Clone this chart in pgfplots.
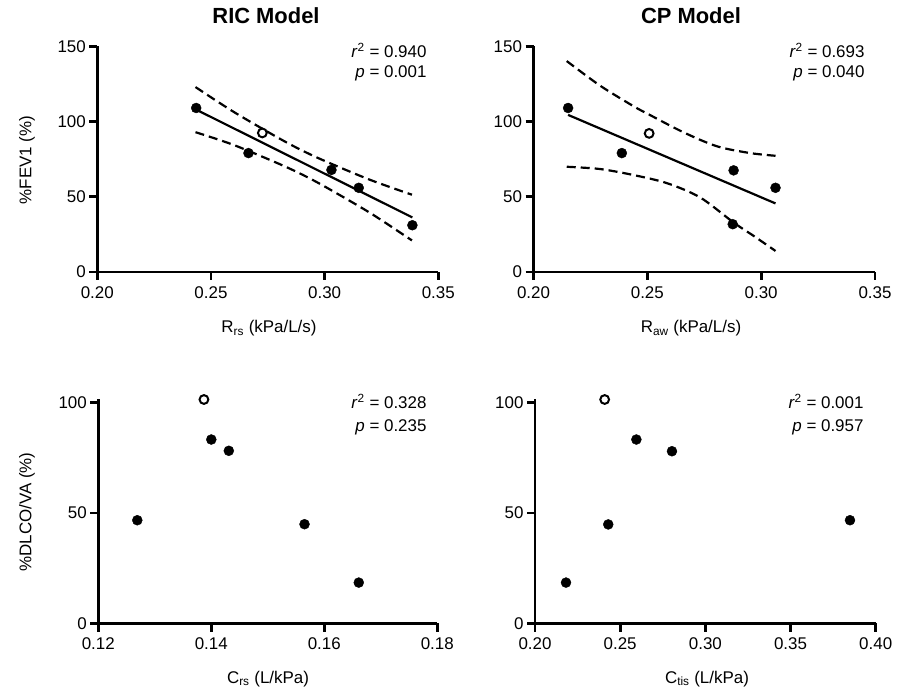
\documentclass[border=0pt]{standalone}
\usepackage{pgfplots}
\pgfplotsset{compat=1.18}
\usepackage{fontspec}
\setmainfont{Liberation Sans}
\newcommand{\fs}{\fontsize{17}{20}\selectfont}
\pgfplotsset{
  panel/.style={
    scale only axis, clip=false,
    axis x line=bottom, axis y line=left,
    axis line style={-, line width=2.8bp, black},
    tick style={line width=2.8bp, black},
    major tick length=8bp,
    tick align=outside,
    ticklabel style={font=\fs},
    xticklabel style={yshift=-3bp},
  },
  ptfill/.style={only marks, mark=*, mark size=5bp, mark options={fill=black, draw=black}},
  ptopen/.style={only marks, mark=*, mark size=4.4bp, mark options={line width=2bp, fill=white, draw=black}},
  fitline/.style={no marks, line width=2.2bp, black},
  band/.style={no marks, line width=2.2bp, black, dash pattern=on 9bp off 5bp, smooth},
}
\begin{document}
\begin{tikzpicture}
\useasboundingbox (0,0) rectangle (897bp,690bp);
% ---------- RIC top ----------
\begin{axis}[panel, at={(97.3bp,418bp)}, anchor=south west, width=341bp, height=225.5bp,
  xmin=0.20, xmax=0.35, ymin=0, ymax=150,
  xtick={0.20,0.25,0.30,0.35}, xticklabels={0.20,0.25,0.30,0.35},
  ytick={0,50,100,150}, yticklabels={0,50,100,150}]
\addplot[band] coordinates {(0.2432,123.0) (0.26,106.5) (0.28,88.9) (0.29,80.9) (0.30,73.9) (0.32,61.3) (0.3384,51.4)};
\addplot[band] coordinates {(0.2432,93.0) (0.26,84.5) (0.28,71.9) (0.29,64.9) (0.30,56.9) (0.32,39.3) (0.3384,21.0)};
\addplot[fitline] coordinates {(0.2435,108.0) (0.3386,36.3)};
\addplot[ptfill] coordinates {(0.2435,109.1) (0.2665,79.1) (0.3030,67.9) (0.3150,56.0) (0.3386,31.1)};
\addplot[ptopen] coordinates {(0.2726,92.5)};
\end{axis}
% ---------- CP top ----------
\begin{axis}[panel, at={(533.5bp,418bp)}, anchor=south west, width=341.5bp, height=225.5bp,
  xmin=0.20, xmax=0.35, ymin=0, ymax=150,
  xtick={0.20,0.25,0.30,0.35}, xticklabels={0.20,0.25,0.30,0.35},
  ytick={0,50,100,150}, yticklabels={0,50,100,150}]
\addplot[band] coordinates {(0.2146,140.3) (0.2292,124.0) (0.2439,110.3) (0.2508,104.7) (0.2659,92.9) (0.2806,83.6) (0.2952,79.1) (0.3063,77.3)};
\addplot[band] coordinates {(0.2146,70.0) (0.2292,68.5) (0.2439,64.5) (0.2586,59.1) (0.2732,49.6) (0.2879,32.9) (0.2967,24.0) (0.3063,14.0)};
\addplot[fitline] coordinates {(0.2152,104.5) (0.3063,45.6)};
\addplot[ptfill] coordinates {(0.2152,109.1) (0.2388,79.1) (0.2879,67.6) (0.2875,31.8) (0.3063,56.0)};
\addplot[ptopen] coordinates {(0.2508,92.2)};
\end{axis}
% ---------- RIC bottom ----------
\begin{axis}[panel, at={(98.3bp,66.5bp)}, anchor=south west, width=339bp, height=224bp,
  xmin=0.12, xmax=0.18, ymin=0, ymax=101.3,
  xtick={0.12,0.14,0.16,0.18}, xticklabels={0.12,0.14,0.16,0.18},
  ytick={0,50,100}, yticklabels={0,50,100}]
\addplot[ptfill] coordinates {(0.1269,46.7) (0.1400,83.2) (0.1431,78.1) (0.1565,44.9) (0.1661,18.5)};
\addplot[ptopen] coordinates {(0.1387,101.3)};
\end{axis}
% ---------- CP bottom ----------
\begin{axis}[panel, at={(535bp,66.5bp)}, anchor=south west, width=340.7bp, height=224bp,
  xmin=0.20, xmax=0.40, ymin=0, ymax=101.3,
  xtick={0.20,0.25,0.30,0.35,0.40}, xticklabels={0.20,0.25,0.30,0.35,0.40},
  ytick={0,50,100}, yticklabels={0,50,100}]
\addplot[ptfill] coordinates {(0.2182,18.5) (0.2430,44.8) (0.2595,83.2) (0.2804,77.9) (0.3849,46.7)};
\addplot[ptopen] coordinates {(0.2409,101.3)};
\end{axis}
% ---------- texts ----------
\node[anchor=base, font=\bfseries\fontsize{22}{26}\selectfont] at (266bp,666bp) {RIC Model};
\node[anchor=base, font=\bfseries\fontsize{22}{26}\selectfont] at (691bp,666bp) {CP Model};
\node[anchor=base, font=\fs] at (269bp,357bp) {R\textsubscript{rs} (kPa/L/s)};
\node[anchor=base, font=\fs] at (691bp,357bp) {R\textsubscript{aw} (kPa/L/s)};
\node[anchor=base, font=\fs] at (268bp,7bp) {C\textsubscript{rs} (L/kPa)};
\node[anchor=base, font=\fs] at (707bp,7bp) {C\textsubscript{tis} (L/kPa)};
\node[rotate=90, font=\fs] at (27bp,530bp) {\%FEV1 (\%)};
\node[rotate=90, font=\fs] at (27bp,178bp) {\%DLCO/VA (\%)};
\node[anchor=base east, font=\fs] at (430bp,632bp) {\textit{r}\textsuperscript{2} = 0.940};
\node[anchor=base east, font=\fs] at (430bp,612bp) {\textit{p} = 0.001};
\node[anchor=base east, font=\fs] at (868bp,632bp) {\textit{r}\textsuperscript{2} = 0.693};
\node[anchor=base east, font=\fs] at (868bp,612bp) {\textit{p} = 0.040};
\node[anchor=base east, font=\fs] at (430bp,281bp) {\textit{r}\textsuperscript{2} = 0.328};
\node[anchor=base east, font=\fs] at (430bp,258.3bp) {\textit{p} = 0.235};
\node[anchor=base east, font=\fs] at (867bp,281bp) {\textit{r}\textsuperscript{2} = 0.001};
\node[anchor=base east, font=\fs] at (867bp,258.3bp) {\textit{p} = 0.957};
\end{tikzpicture}
\end{document}
